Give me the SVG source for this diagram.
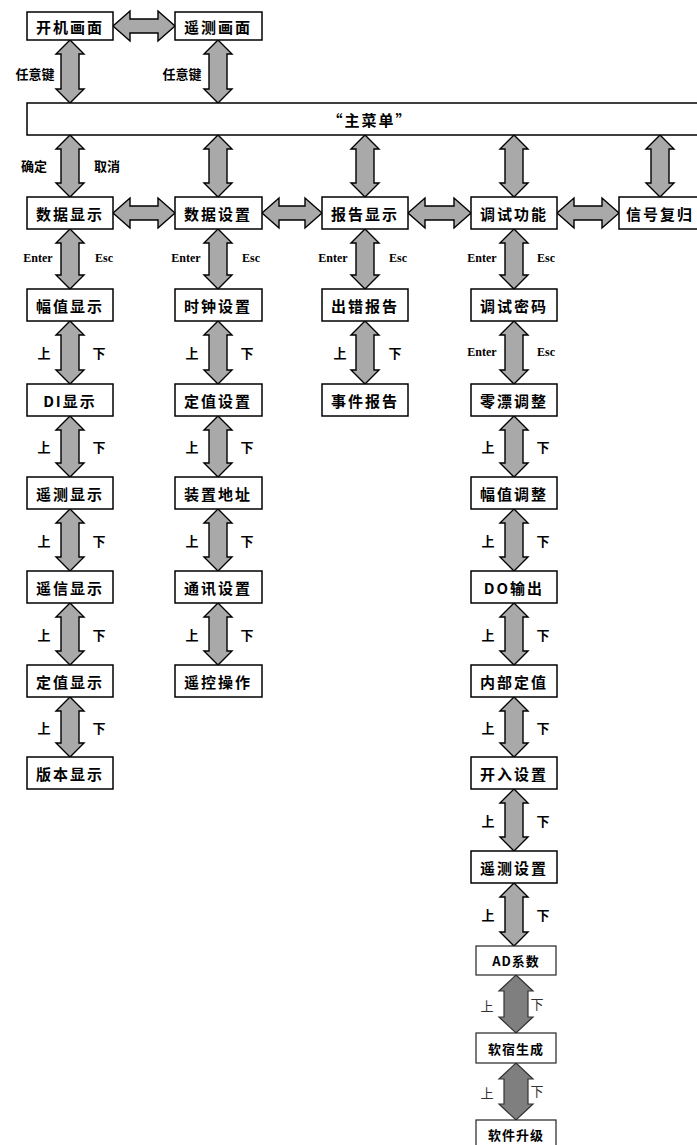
<svg xmlns="http://www.w3.org/2000/svg" width="697" height="1145" viewBox="0 0 697 1145">
<style>
.box{fill:#fff;stroke:#000;stroke-width:1.5}
.bx2{fill:#fff;stroke:#222;stroke-width:1.2}
.arr{fill:#a9a9a9;stroke:#000;stroke-width:1.4;stroke-linejoin:miter}
.arr2{fill:#7f7f7f;stroke:#333;stroke-width:1.2}
text{font-family:"Noto Sans CJK SC","Noto Sans",sans-serif;font-weight:bold;fill:#000;text-anchor:middle;dominant-baseline:central}
.t{font-size:15px;letter-spacing:2px}
.t2{font-size:13px;letter-spacing:1px}
.l{font-size:13px}
.e{font-family:"Liberation Serif",serif;font-size:12px;font-weight:bold}
.lt{font-size:13px;font-weight:normal;fill:#333}
</style>
<rect width="697" height="1145" fill="#fff"/>
<g id="connectors">
<path class="arr" d="M113,26 l17,-15 v8 H158 v-8 l17,15 l-17,15 v-8 H130 v8z"/>
<path class="arr" d="M70,40 l14,14 h-5 V89 h5 l-14,14 l-14,-14 h5 V54 h-5z"/>
<path class="arr" d="M218,40 l14,14 h-5 V89 h5 l-14,14 l-14,-14 h5 V54 h-5z"/>
<path class="arr" d="M70,135 l14,14 h-5 V183 h5 l-14,14 l-14,-14 h5 V149 h-5z"/>
<path class="arr" d="M218,135 l14,14 h-5 V183 h5 l-14,14 l-14,-14 h5 V149 h-5z"/>
<path class="arr" d="M365,135 l14,14 h-5 V183 h5 l-14,14 l-14,-14 h5 V149 h-5z"/>
<path class="arr" d="M514,135 l14,14 h-5 V183 h5 l-14,14 l-14,-14 h5 V149 h-5z"/>
<path class="arr" d="M660,135 l14,14 h-5 V183 h5 l-14,14 l-14,-14 h5 V149 h-5z"/>
<path class="arr" d="M113,213 l17,-15 v8 H158 v-8 l17,15 l-17,15 v-8 H130 v8z"/>
<path class="arr" d="M262,213 l17,-15 v8 H305 v-8 l17,15 l-17,15 v-8 H279 v8z"/>
<path class="arr" d="M408,213 l17,-15 v8 H454 v-8 l17,15 l-17,15 v-8 H425 v8z"/>
<path class="arr" d="M557,213 l17,-15 v8 H602 v-8 l17,15 l-17,15 v-8 H574 v8z"/>
<path class="arr" d="M70,229 l14,14 h-5 V275 h5 l-14,14 l-14,-14 h5 V243 h-5z"/>
<path class="arr" d="M218,229 l14,14 h-5 V275 h5 l-14,14 l-14,-14 h5 V243 h-5z"/>
<path class="arr" d="M365,229 l14,14 h-5 V275 h5 l-14,14 l-14,-14 h5 V243 h-5z"/>
<path class="arr" d="M514,229 l14,14 h-5 V275 h5 l-14,14 l-14,-14 h5 V243 h-5z"/>
<path class="arr" d="M70,321 l14,14 h-5 V370 h5 l-14,14 l-14,-14 h5 V335 h-5z"/>
<path class="arr" d="M70,416 l14,14 h-5 V463 h5 l-14,14 l-14,-14 h5 V430 h-5z"/>
<path class="arr" d="M70,509 l14,14 h-5 V557 h5 l-14,14 l-14,-14 h5 V523 h-5z"/>
<path class="arr" d="M70,603 l14,14 h-5 V651 h5 l-14,14 l-14,-14 h5 V617 h-5z"/>
<path class="arr" d="M70,697 l14,14 h-5 V743 h5 l-14,14 l-14,-14 h5 V711 h-5z"/>
<path class="arr" d="M218,321 l14,14 h-5 V370 h5 l-14,14 l-14,-14 h5 V335 h-5z"/>
<path class="arr" d="M218,416 l14,14 h-5 V463 h5 l-14,14 l-14,-14 h5 V430 h-5z"/>
<path class="arr" d="M218,509 l14,14 h-5 V557 h5 l-14,14 l-14,-14 h5 V523 h-5z"/>
<path class="arr" d="M218,603 l14,14 h-5 V651 h5 l-14,14 l-14,-14 h5 V617 h-5z"/>
<path class="arr" d="M365,321 l14,14 h-5 V370 h5 l-14,14 l-14,-14 h5 V335 h-5z"/>
<path class="arr" d="M514,321 l14,14 h-5 V370 h5 l-14,14 l-14,-14 h5 V335 h-5z"/>
<path class="arr" d="M514,416 l14,14 h-5 V463 h5 l-14,14 l-14,-14 h5 V430 h-5z"/>
<path class="arr" d="M514,509 l14,14 h-5 V557 h5 l-14,14 l-14,-14 h5 V523 h-5z"/>
<path class="arr" d="M514,603 l14,14 h-5 V651 h5 l-14,14 l-14,-14 h5 V617 h-5z"/>
<path class="arr" d="M514,697 l14,14 h-5 V743 h5 l-14,14 l-14,-14 h5 V711 h-5z"/>
<path class="arr" d="M514,789 l14,14 h-5 V837 h5 l-14,14 l-14,-14 h5 V803 h-5z"/>
<path class="arr" d="M514,883 l14,14 h-5 V932 h5 l-14,14 l-14,-14 h5 V897 h-5z"/>
<path class="arr2" d="M516,975 l17,16 h-5 V1017 h5 l-17,16 l-17,-16 h5 V991 h-5z"/>
<path class="arr2" d="M516,1063 l17,16 h-5 V1104 h5 l-17,16 l-17,-16 h5 V1079 h-5z"/>
</g>
<g id="labels">
<text class="l" x="35" y="73">任意键</text>
<text class="l" x="182" y="73">任意键</text>
<text class="l" x="34" y="165">确定</text>
<text class="l" x="107" y="165">取消</text>
<text class="e" x="38" y="258">Enter</text><text class="e" x="104" y="258">Esc</text>
<text class="e" x="186" y="258">Enter</text><text class="e" x="251" y="258">Esc</text>
<text class="e" x="333" y="258">Enter</text><text class="e" x="398" y="258">Esc</text>
<text class="e" x="482" y="258">Enter</text><text class="e" x="546" y="258">Esc</text>
<text class="e" x="482" y="352">Enter</text><text class="e" x="546" y="352">Esc</text>
<text class="l" x="44" y="352">上</text><text class="l" x="99" y="352">下</text>
<text class="l" x="44" y="446">上</text><text class="l" x="99" y="446">下</text>
<text class="l" x="44" y="540">上</text><text class="l" x="99" y="540">下</text>
<text class="l" x="44" y="634">上</text><text class="l" x="99" y="634">下</text>
<text class="l" x="44" y="727">上</text><text class="l" x="99" y="727">下</text>
<text class="l" x="192" y="352">上</text><text class="l" x="247" y="352">下</text>
<text class="l" x="192" y="446">上</text><text class="l" x="247" y="446">下</text>
<text class="l" x="192" y="540">上</text><text class="l" x="247" y="540">下</text>
<text class="l" x="192" y="634">上</text><text class="l" x="247" y="634">下</text>
<text class="l" x="340" y="352">上</text><text class="l" x="395" y="352">下</text>
<text class="l" x="488" y="446">上</text><text class="l" x="543" y="446">下</text>
<text class="l" x="488" y="540">上</text><text class="l" x="543" y="540">下</text>
<text class="l" x="488" y="634">上</text><text class="l" x="543" y="634">下</text>
<text class="l" x="488" y="727">上</text><text class="l" x="543" y="727">下</text>
<text class="l" x="488" y="820">上</text><text class="l" x="543" y="820">下</text>
<text class="l" x="488" y="914">上</text><text class="l" x="543" y="914">下</text>
<text class="lt" x="487" y="1005">上</text><text class="lt" x="537" y="1003">下</text>
<text class="lt" x="487" y="1092">上</text><text class="lt" x="537" y="1090">下</text>
</g>
<g id="n-boot"><rect class="box" x="27" y="12" width="86" height="28"/><text class="t" x="70" y="26">开机画面</text></g>
<g id="n-telemetry-screen"><rect class="box" x="175" y="12" width="87" height="28"/><text class="t" x="218" y="26">遥测画面</text></g>
<g id="n-main-menu"><rect class="box" x="27" y="103" width="672" height="32"/><text class="t" x="370" y="119">“主菜单”</text></g>
<g id="n-data-display"><rect class="box" x="27" y="197" width="86" height="32"/><text class="t" x="70" y="213">数据显示</text></g>
<g id="n-data-setting"><rect class="box" x="175" y="197" width="87" height="32"/><text class="t" x="218" y="213">数据设置</text></g>
<g id="n-report-display"><rect class="box" x="322" y="197" width="86" height="32"/><text class="t" x="365" y="213">报告显示</text></g>
<g id="n-debug"><rect class="box" x="471" y="197" width="86" height="32"/><text class="t" x="514" y="213">调试功能</text></g>
<g id="n-signal-reset"><rect class="box" x="619" y="197" width="80" height="32"/><text class="t" x="660" y="213">信号复归</text></g>
<g id="n-amp-display"><rect class="box" x="27" y="289" width="86" height="32"/><text class="t" x="70" y="305">幅值显示</text></g>
<g id="n-di-display"><rect class="box" x="27" y="384" width="86" height="32"/><text class="t" x="70" y="400">DI显示</text></g>
<g id="n-tm-display"><rect class="box" x="27" y="477" width="86" height="32"/><text class="t" x="70" y="493">遥测显示</text></g>
<g id="n-ts-display"><rect class="box" x="27" y="571" width="86" height="32"/><text class="t" x="70" y="587">遥信显示</text></g>
<g id="n-setting-display"><rect class="box" x="27" y="665" width="86" height="32"/><text class="t" x="70" y="681">定值显示</text></g>
<g id="n-version-display"><rect class="box" x="27" y="757" width="86" height="32"/><text class="t" x="70" y="773">版本显示</text></g>
<g id="n-clock"><rect class="box" x="175" y="289" width="87" height="32"/><text class="t" x="218" y="305">时钟设置</text></g>
<g id="n-setpoint"><rect class="box" x="175" y="384" width="87" height="32"/><text class="t" x="218" y="400">定值设置</text></g>
<g id="n-address"><rect class="box" x="175" y="477" width="87" height="32"/><text class="t" x="218" y="493">装置地址</text></g>
<g id="n-comm"><rect class="box" x="175" y="571" width="87" height="32"/><text class="t" x="218" y="587">通讯设置</text></g>
<g id="n-remote-ctrl"><rect class="box" x="175" y="665" width="87" height="32"/><text class="t" x="218" y="681">遥控操作</text></g>
<g id="n-error-report"><rect class="box" x="322" y="289" width="86" height="32"/><text class="t" x="365" y="305">出错报告</text></g>
<g id="n-event-report"><rect class="box" x="322" y="384" width="86" height="32"/><text class="t" x="365" y="400">事件报告</text></g>
<g id="n-debug-pwd"><rect class="box" x="471" y="289" width="86" height="32"/><text class="t" x="514" y="305">调试密码</text></g>
<g id="n-zero-adj"><rect class="box" x="471" y="384" width="86" height="32"/><text class="t" x="514" y="400">零漂调整</text></g>
<g id="n-amp-adj"><rect class="box" x="471" y="477" width="86" height="32"/><text class="t" x="514" y="493">幅值调整</text></g>
<g id="n-do-out"><rect class="box" x="471" y="571" width="86" height="32"/><text class="t" x="514" y="587">DO输出</text></g>
<g id="n-internal-set"><rect class="box" x="471" y="665" width="86" height="32"/><text class="t" x="514" y="681">内部定值</text></g>
<g id="n-di-set"><rect class="box" x="471" y="757" width="86" height="32"/><text class="t" x="514" y="773">开入设置</text></g>
<g id="n-tm-set"><rect class="box" x="471" y="851" width="86" height="32"/><text class="t" x="514" y="867">遥测设置</text></g>
<g id="n-ad-coef"><rect class="bx2" x="476" y="946" width="80" height="29"/><text class="t2" x="516" y="960">AD系数</text></g>
<g id="n-generate"><rect class="bx2" x="476" y="1033" width="80" height="30"/><text class="t2" x="516" y="1048">软宿生成</text></g>
<g id="n-upgrade"><rect class="bx2" x="476" y="1120" width="80" height="30"/><text class="t2" x="516" y="1134">软件升级</text></g>
</svg>
